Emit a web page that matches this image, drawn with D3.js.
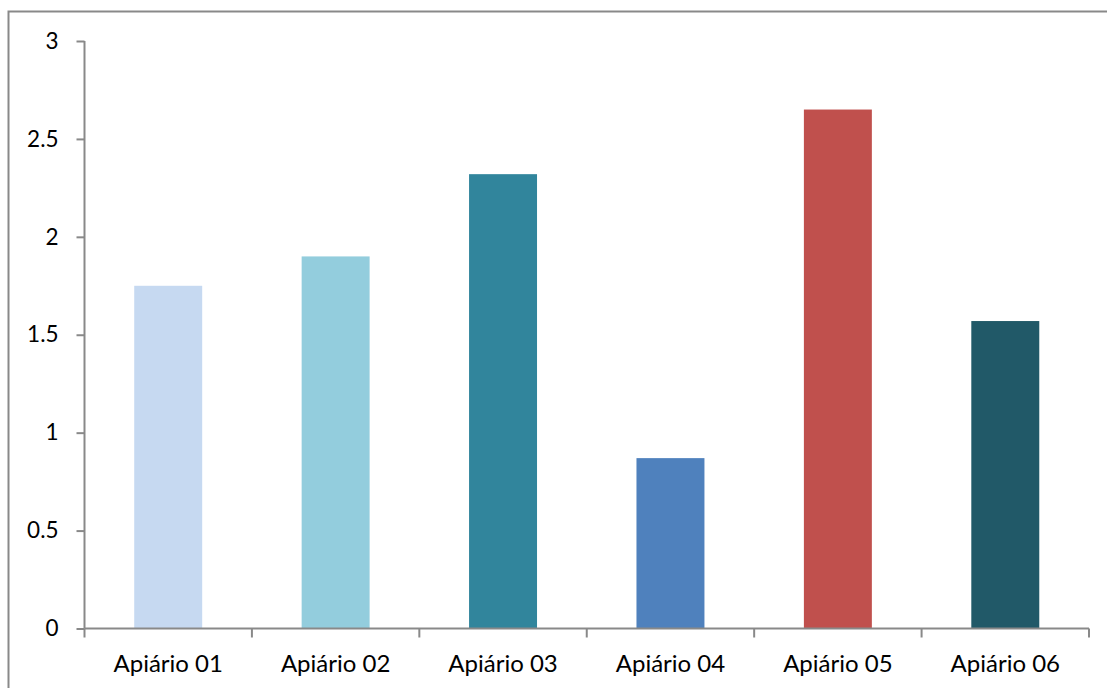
<!DOCTYPE html>
<html><head><meta charset="utf-8">
<script src="https://cdn.jsdelivr.net/npm/d3@7"></script>
<style>body{margin:0;background:#fff}svg{display:block}</style>
</head><body>
<script>
const categories = ["Apiário 01","Apiário 02","Apiário 03","Apiário 04","Apiário 05","Apiário 06"];
const values = [1.75, 1.9, 2.32, 0.87, 2.65, 1.57];
const colors = ["#C6D9F1","#93CDDD","#31859C","#4F81BD","#C0504D","#215968"];
const yTicks = [0, 0.5, 1, 1.5, 2, 2.5, 3];

const W = 1107, H = 688;
const svg = d3.select("body").append("svg").attr("width", W).attr("height", H);
svg.append("rect").attr("x", 8.5).attr("y", 11.5).attr("width", W + 10).attr("height", H + 10)
  .attr("fill", "#fff").attr("stroke", "#898989").attr("stroke-width", 2);

const pLeft = 84.5, pRight = 1089, pTop = 41, pBottom = 628.5;
const x = d3.scaleBand().domain(categories).range([pLeft, pRight]).paddingInner(0.594).paddingOuter(0.297);
const y = d3.scaleLinear().domain([0, 3]).range([pBottom, pTop]);

svg.selectAll("rect.bar").data(values).join("rect").attr("class", "bar")
  .attr("x", (d, i) => x(categories[i])).attr("width", x.bandwidth())
  .attr("y", d => y(d)).attr("height", d => y(0) - y(d))
  .attr("fill", (d, i) => colors[i]);

const font = "Lato, 'Open Sans', sans-serif";
const yAxis = svg.append("g").attr("transform", `translate(${pLeft},0)`)
  .call(d3.axisLeft(y).tickValues(yTicks).tickSize(8).tickPadding(18).tickFormat(d => String(d)));
yAxis.select(".domain").attr("stroke", "#898989").attr("stroke-width", 2).attr("d", `M0,${pTop}V${pBottom}`);
yAxis.selectAll(".tick line").attr("stroke", "#898989").attr("stroke-width", 2);
yAxis.selectAll(".tick text").attr("font-family", font).attr("font-size", 22.5).attr("fill", "#000");

const xEdge = d3.scaleLinear().domain([0, categories.length]).range([pLeft, pRight]);
const xg = svg.append("g");
xg.append("line").attr("x1", pLeft).attr("x2", pRight).attr("y1", pBottom).attr("y2", pBottom)
  .attr("stroke", "#898989").attr("stroke-width", 2);
xg.selectAll("line.t").data(d3.range(categories.length + 1)).join("line").attr("class", "t")
  .attr("x1", d => xEdge(d)).attr("x2", d => xEdge(d)).attr("y1", pBottom).attr("y2", pBottom + 9)
  .attr("stroke", "#898989").attr("stroke-width", 2);
xg.selectAll("text").data(categories).join("text")
  .attr("x", d => x(d) + x.bandwidth() / 2).attr("y", 672)
  .attr("text-anchor", "middle").attr("font-family", font).attr("font-size", 24).attr("fill", "#000")
  .text(d => d);
</script>
</body></html>
